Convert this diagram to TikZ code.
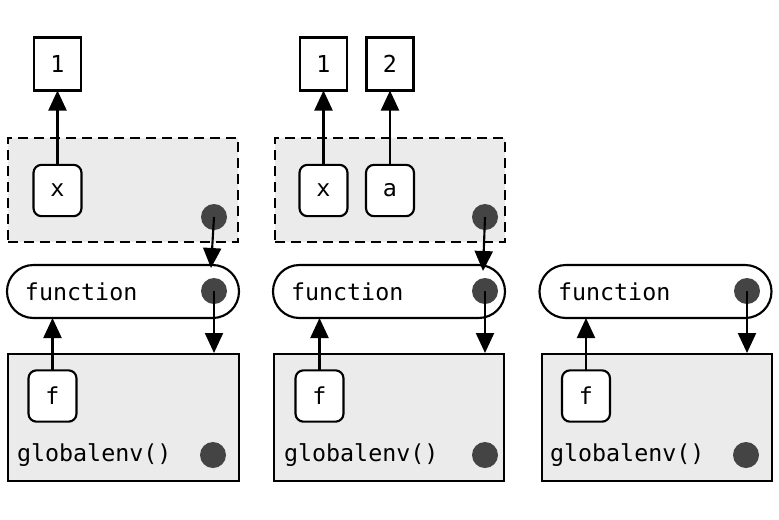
\documentclass[tikz,border=0pt]{standalone}
\usepackage{fontspec}
\setmonofont{DejaVu Sans Mono}
\usetikzlibrary{arrows.meta}
\definecolor{envfill}{HTML}{EBEBEB}
\definecolor{dotc}{HTML}{444444}
\begin{document}
\begin{tikzpicture}[x=0.75pt,y=-0.75pt,
  font=\ttfamily\fontsize{17.5}{20}\selectfont,
  every node/.style={inner sep=0pt, outer sep=0pt},
  val/.style={draw, line width=1.6pt, minimum width=35.25pt, minimum height=39.75pt, fill=white},
  var/.style={draw, line width=1.6pt, rounded corners=6pt, fill=white, minimum width=36pt, minimum height=38.5pt},
  env/.style={draw, line width=1.6pt, fill=envfill, dash pattern=on 7.5pt off 4.5pt, minimum width=172.5pt, minimum height=78pt},
  genv/.style={draw, line width=1.6pt, fill=envfill, minimum width=173pt, minimum height=95.25pt},
  fun/.style={draw, line width=1.6pt, fill=white, rounded corners=19.8pt, minimum width=174pt, minimum height=39.75pt},
  dot/.style={circle, fill=dotc, minimum size=19.5pt},
  arr/.style={line width=1.6pt, -{Triangle[length=15pt, width=13.5pt]}},
  lbl/.style={anchor=west},
]
\useasboundingbox (0,0) rectangle (779,519);

% ---------- left panel ----------
\node[env] (e1) at (123,190) {};
\node[val] (a1) at (57.5,64) {1};
\node[var] (x1) at (57.5,190.5) {x};
\node[dot] (ed1) at (214,217) {};
\node[fun] (f1) at (123,291.5) {};
\node[lbl] (fl1) at (25,292) {function};
\node[dot] (fd1) at (214,291) {};
\node[genv] (g1) at (123.5,417.5) {};
\node[var] (fv1) at (52.5,396) {f};
\node[lbl] (gl1) at (17,455) {globalenv()};
\node[dot] (gd1) at (213,455) {};
\coordinate (t1) at (211,268);
\coordinate (b1) at (214,353);
\draw[arr] (x1.north) -- (a1.south);
\draw[arr] (ed1.center) -- (t1);
\draw[arr] (fd1.center) -- (b1);
\draw[arr] (fv1.north) -- (fv1.north |- f1.south);

% ---------- middle panel ----------
\node[env] (e2) at (390,190) {};
\node[val] (a2) at (323.5,64) {1};
\node[val] (c2) at (390,64) {2};
\node[var] (x2) at (323.5,190.5) {x};
\node[var] (y2) at (390,190.5) {a};
\node[dot] (ed2) at (485,217) {};
\node[fun] (f2) at (389,291.5) {};
\node[lbl] (fl2) at (291,292) {function};
\node[dot] (fd2) at (485,291) {};
\node[genv] (g2) at (389,417.5) {};
\node[var] (fv2) at (319.5,396) {f};
\node[lbl] (gl2) at (284,455) {globalenv()};
\node[dot] (gd2) at (485,455) {};
\coordinate (t2) at (483,271);
\coordinate (b2) at (485,353);
\draw[arr] (x2.north) -- (a2.south);
\draw[arr] (y2.north) -- (c2.south);
\draw[arr] (ed2.center) -- (t2);
\draw[arr] (fd2.center) -- (b2);
\draw[arr] (fv2.north) -- (fv2.north |- f2.south);

% ---------- right panel ----------
\node[fun] (f3) at (655.5,291.5) {};
\node[lbl] (fl3) at (558,292) {function};
\node[dot] (fd3) at (747,291) {};
\node[genv] (g3) at (657,417.5) {};
\node[var] (fv3) at (586,396) {f};
\node[lbl] (gl3) at (550,455) {globalenv()};
\node[dot] (gd3) at (746,455) {};
\coordinate (b3) at (747,353);
\draw[arr] (fd3.center) -- (b3);
\draw[arr] (fv3.north) -- (fv3.north |- f3.south);
\end{tikzpicture}
\end{document}
